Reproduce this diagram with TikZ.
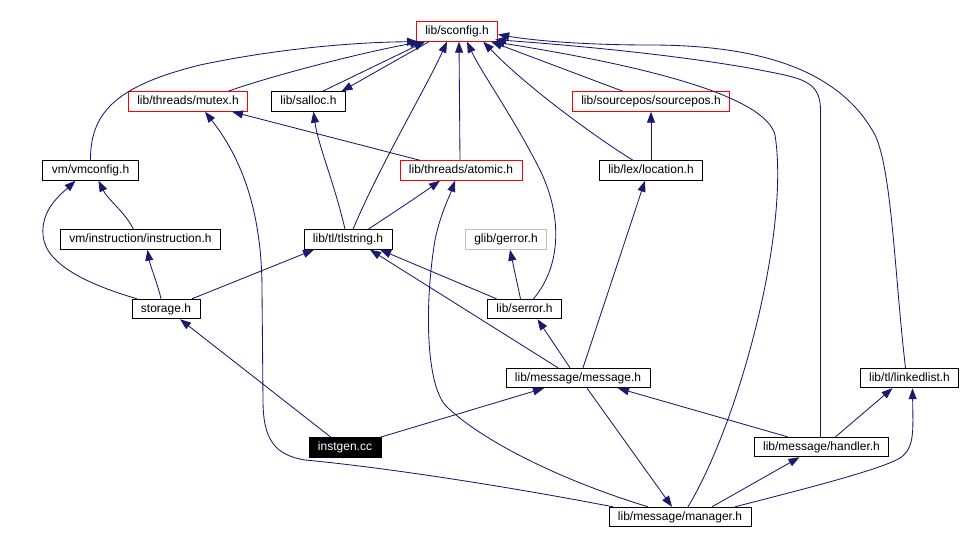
\documentclass[tikz,border=0pt]{standalone}
\usepackage{fontspec}
\setmainfont{Liberation Sans}
\usetikzlibrary{arrows.meta}
\definecolor{edgecol}{HTML}{191970}
\definecolor{greyb}{HTML}{BFBFBF}
\begin{document}
\begin{tikzpicture}[x=1pt,y=-1pt,
  box/.style={draw=black,line width=0.9pt,fill=white,font=\fontsize{12}{14}\selectfont,inner xsep=9pt,inner ysep=0pt,minimum height=19.5pt,text height=9pt,text depth=2.6pt},
  redbox/.style={box,draw=red},
  greybox/.style={box,draw=greyb},
  blackbox/.style={box,fill=black,text=white},
  edge/.style={draw=edgecol,line width=0.85pt,-{Triangle[length=11pt,width=8pt]}}
]
\useasboundingbox[fill=white] (0,0) rectangle (965,544);
% nodes
\node[redbox] (sconfig) at (457,31.5) {lib/sconfig.h};
\node[redbox] (mutex) at (188,101.5) {lib/threads/mutex.h};
\node[box] (salloc) at (308.5,101.5) {lib/salloc.h};
\node[redbox] (sourcepos) at (651,101.5) {lib/sourcepos/sourcepos.h};
\node[box] (vmconfig) at (90.5,170.5) {vm/vmconfig.h};
\node[redbox] (atomic) at (461,170.5) {lib/threads/atomic.h};
\node[box] (location) at (651,170.5) {lib/lex/location.h};
\node[box] (instruction) at (140.5,239.5) {vm/instruction/instruction.h};
\node[box] (tlstring) at (348,239.5) {lib/tl/tlstring.h};
\node[greybox] (gerror) at (506,239.5) {glib/gerror.h};
\node[box] (storage) at (166,309) {storage.h};
\node[box] (serror) at (524.5,309) {lib/serror.h};
\node[box] (message) at (578,378) {lib/message/message.h};
\node[box] (linkedlist) at (909.5,378) {lib/tl/linkedlist.h};
\node[blackbox] (instgen) at (345,447.5) {instgen.cc};
\node[box] (handler) at (821.5,447) {lib/message/handler.h};
\node[box] (manager) at (680,517) {lib/message/manager.h};
% edges into sconfig
\draw[edge] (vmconfig.north) .. controls (90,110) and (120,85) .. (200,65) .. controls (280,48) and (360,42) .. ([xshift=-39pt]sconfig.south);
\draw[edge] ([xshift=40pt]mutex.north) .. controls (265,78) and (350,55) .. ([xshift=-36pt]sconfig.south);
\draw[edge] ([xshift=14pt]salloc.north) -- ([xshift=-32pt]sconfig.south);
\draw[edge] ([xshift=-28pt]sconfig.south) -- ([xshift=33pt]salloc.north);
\draw[edge] ([xshift=5pt]tlstring.north) .. controls (380,165) and (425,90) .. ([xshift=-10pt]sconfig.south);
\draw[edge] ([xshift=-1pt]atomic.north) -- ([xshift=2pt]sconfig.south);
\draw[edge] ([xshift=9pt]serror.north) .. controls (562,265) and (562,215) .. (540,170) .. controls (515,120) and (480,70) .. ([xshift=10pt]sconfig.south);
\draw[edge] ([xshift=-28pt]sourcepos.north) -- ([xshift=-7pt]sconfig.south east);
\draw[edge] ([xshift=-18pt]location.north) .. controls (600,140) and (530,90) .. ([xshift=-15pt]sconfig.south east);
\draw[edge] ([xshift=8pt]manager.north) .. controls (740,420) and (790,230) .. (775,135) .. controls (765,95) and (640,65) .. ([xshift=-5pt]sconfig.south east);
\draw[edge] ([xshift=-1pt]handler.north) -- (820.5,110) .. controls (820.5,80) and (800,78) .. (760,70) .. controls (680,55) and (570,45) .. ([xshift=-3pt,yshift=2pt]sconfig.south east);
\draw[edge] ([xshift=-4pt]linkedlist.north) .. controls (895,280) and (892,170) .. (875,135) .. controls (840,70) and (760,45) .. (650,45) .. controls (580,45) and (530,40) .. ([yshift=-3pt]sconfig.east);
% other edges
\draw[edge] (location) -- (sourcepos);
\draw[edge] ([xshift=-41pt]atomic.north) -- ([xshift=44pt]mutex.south);
\draw[edge] ([xshift=-3pt]tlstring.north) .. controls (335,185) and (318,145) .. ([xshift=5pt]salloc.south);
\draw[edge] ([xshift=20pt]tlstring.north) .. controls (390,215) and (420,195) .. ([xshift=-21pt]atomic.south);
\draw[edge] ([xshift=-7pt]instruction.north) .. controls (125,212) and (108,200) .. ([xshift=8pt]vmconfig.south);
\draw[edge] ([xshift=-29pt]storage.north) .. controls (90,285) and (45,265) .. (43,235) .. controls (41,210) and (60,195) .. ([xshift=-15pt]vmconfig.south);
\draw[edge] ([xshift=-5pt]storage.north) .. controls (158,285) and (150,265) .. ([xshift=7pt]instruction.south);
\draw[edge] ([xshift=26pt]storage.north) -- ([xshift=-34pt]tlstring.south);
\draw[edge] ([xshift=-4pt]serror.north) -- ([xshift=4pt]gerror.south);
\draw[edge] ([xshift=-28pt]serror.north) -- ([xshift=32pt]tlstring.south);
\draw[edge] ([xshift=-8pt]message.north) -- ([xshift=13pt]serror.south);
\draw[edge] ([xshift=-20pt]message.north) -- ([xshift=22pt]tlstring.south);
\draw[edge] ([xshift=5pt]message.north) -- ([xshift=-6pt]location.south);
\draw[edge] ([xshift=9pt]message.south) -- ([xshift=-8pt]manager.north);
\draw[edge] ([xshift=-14pt]instgen.north) -- ([xshift=14pt]storage.south);
\draw[edge] ([xshift=35pt]instgen.north) -- ([xshift=-34pt]message.south);
\draw[edge] ([xshift=-34pt]handler.north) -- ([xshift=40pt]message.south);
\draw[edge] ([xshift=14pt]handler.north) -- ([xshift=-17pt]linkedlist.south);
\draw[edge] ([xshift=32pt]manager.north) -- ([xshift=-22pt]handler.south);
\draw[edge] ([xshift=55pt]manager.north) .. controls (800,490) and (880,470) .. (900,458) .. controls (915,448) and (913,430) .. ([xshift=3pt]linkedlist.south);
\draw[edge] ([xshift=-32pt]manager.north) .. controls (560,480) and (480,440) .. (445,405) .. controls (425,380) and (425,300) .. (435,240) .. controls (440,215) and (450,195) .. ([xshift=-6pt]atomic.south);
\draw[edge] ([xshift=-67pt]manager.north) .. controls (500,485) and (380,467) .. (305,460) .. controls (275,455) and (263,440) .. (263,400) -- (262,290) .. controls (262,200) and (235,150) .. ([xshift=17pt]mutex.south);
\end{tikzpicture}
\end{document}
